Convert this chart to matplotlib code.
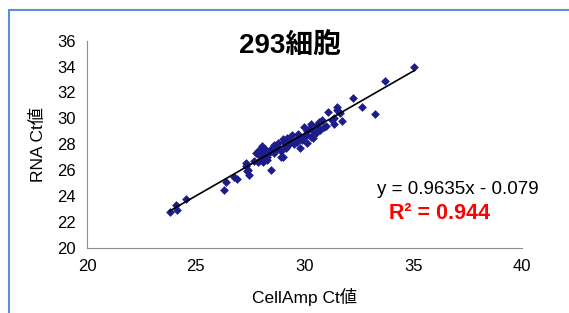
import numpy as np
import matplotlib
matplotlib.use('Agg')
from matplotlib import pyplot as plt
from matplotlib.patches import Rectangle

plt.rcParams['font.family'] = ['Liberation Sans', 'Noto Sans CJK JP']

# CellAmp Ct vs RNA Ct
cellamp_ct = [23.8, 24.1, 24.15, 24.55, 26.3, 26.4, 26.75, 26.9,
              27.3, 27.4, 27.45, 27.35, 27.3, 27.75, 27.9, 28.05, 28.1, 28.3,
              28.45, 28.9, 28.6, 28.8, 29.05, 29.15, 28.15, 27.85, 28.0, 28.2,
              28.4, 28.5, 27.7, 27.95, 28.1, 28.3, 28.6, 28.7,
              28.9, 29.0, 29.1, 29.35, 29.6, 29.8, 29.8, 30.1, 30.1, 30.4,
              30.4, 30.7, 31.0, 31.35, 31.75, 30.0, 30.3, 30.1, 30.3, 30.45,
              30.6, 30.8, 31.1, 31.35, 31.5, 31.6, 31.5, 31.65, 31.25,
              29.3, 29.5, 29.7, 29.9, 29.2, 29.45, 29.65, 30.2, 30.55, 30.9,
              29.0, 29.25, 28.75, 30.0, 30.65,
              32.25, 32.65, 33.25, 33.7, 35.05]
rna_ct = [22.8, 23.3, 22.95, 23.75, 24.5, 25.1, 25.45, 25.3,
          26.55, 26.05, 25.65, 25.9, 26.3, 27.3, 27.55, 27.85, 27.3, 27.05,
          26.05, 27.05, 27.95, 28.1, 28.2, 27.7, 26.8, 26.65, 26.9, 27.6,
          27.4, 27.7, 26.7, 27.1, 26.6, 26.8, 27.3, 27.6,
          27.45, 27.05, 27.85, 28.1, 28.35, 28.6, 27.7, 28.75, 28.1, 29.0,
          28.5, 29.1, 29.4, 29.6, 29.8, 28.6, 28.6, 29.0, 29.6, 29.1,
          29.5, 29.9, 30.5, 30.0, 30.9, 30.5, 30.65, 30.4, 29.9,
          28.3, 28.0, 28.8, 28.3, 28.5, 28.75, 28.2, 29.2, 28.9, 29.3,
          28.4, 27.95, 27.9, 29.3, 29.7,
          31.6, 30.85, 30.35, 32.85, 34.0]

slope = 0.9635
intercept = -0.079
r2 = 0.944

x = np.array(cellamp_ct)
y = np.array(rna_ct)

fig = plt.figure(figsize=(5.69, 3.13), dpi=100)
ax = fig.add_axes([0.153, 0.208, 0.764, 0.662])

ax.scatter(x, y, marker='D', s=20, color='#1C1C8A', zorder=3, linewidths=0)
xl = np.array([x.min(), x.max()])
ax.plot(xl, slope * xl + intercept, color='black', lw=1.2, zorder=4)

ax.set_xlim(20, 40)
ax.set_ylim(20, 36)
ax.set_xticks([20, 25, 30, 35, 40])
ax.set_yticks(np.arange(20, 37, 2))
ax.tick_params(length=0, labelsize=12, pad=8)
for s in ['top', 'right']:
    ax.spines[s].set_visible(False)
for s in ['left', 'bottom']:
    ax.spines[s].set_color('#8c8c8c')

ax.set_xlabel('CellAmp Ct値', fontsize=12.5, labelpad=10)
ax.set_ylabel('RNA Ct値', fontsize=12.5, labelpad=8)

fig.text(0.51, 0.855, '293細胞', fontsize=20, fontweight='bold',
         ha='center', va='center')
fig.text(0.805, 0.393, f'y = {slope}x - {abs(intercept)}', fontsize=13.5,
         ha='center', va='center')
fig.text(0.773, 0.317, f'R² = {r2}', fontsize=15.5, fontweight='bold',
         color='#ff0000', ha='center', va='center')

# blue frame of the chart area
fig.patches.append(Rectangle((9 / 569, -0.2), 2.0, 1.2 - 10 / 313,
                             transform=fig.transFigure, fill=False,
                             edgecolor='#5b8fd9', lw=1.5))

fig.savefig('out.png', dpi=100)
